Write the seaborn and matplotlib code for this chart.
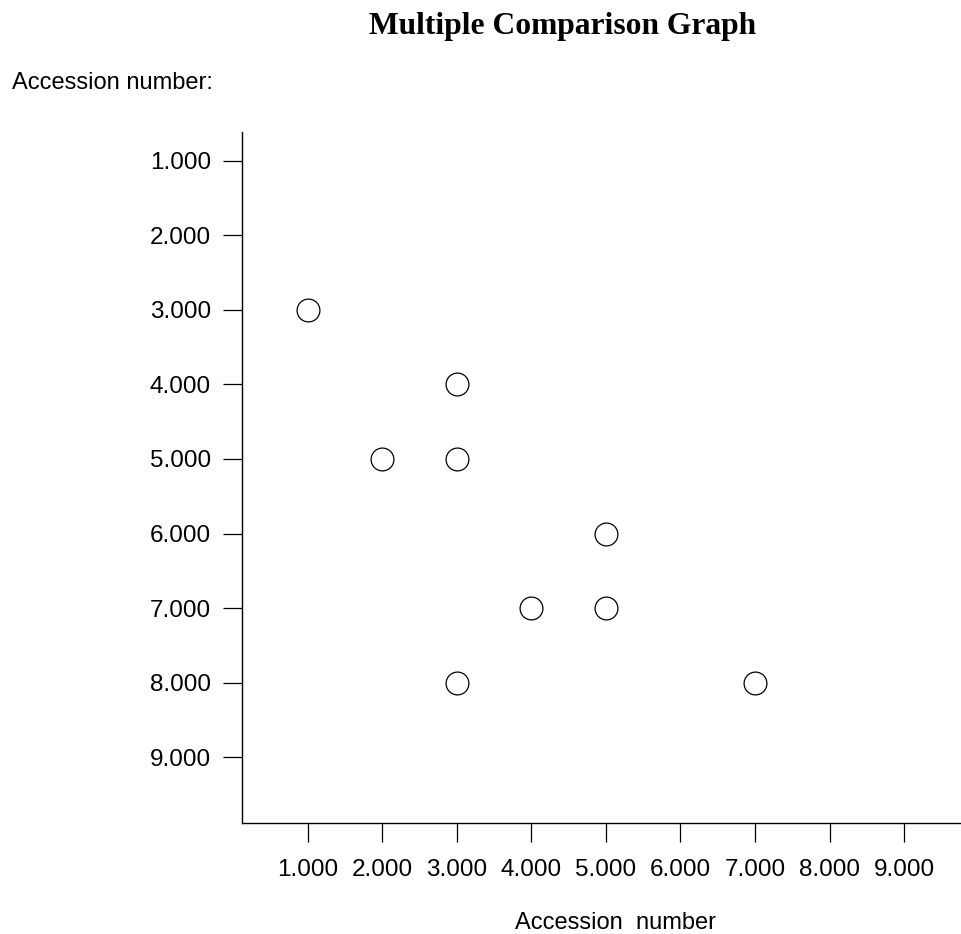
import numpy as np
import pandas as pd
import seaborn as sns, matplotlib.pyplot as plt

sns.set_style("ticks")
plt.rcParams['font.family'] = ['Liberation Sans', 'DejaVu Sans']
plt.rcParams['text.color'] = 'black'
plt.rcParams['axes.labelcolor'] = 'black'
plt.rcParams['xtick.color'] = 'black'
plt.rcParams['ytick.color'] = 'black'

# pairs of accessions that differ
acc_x = [1, 3, 2, 3, 5, 4, 5, 3, 7]
acc_y = [3, 4, 5, 5, 6, 7, 7, 8, 8]
tick_vals = [1, 2, 3, 4, 5, 6, 7, 8, 9]
tick_labels = ["%.3f" % v for v in tick_vals]

df = pd.DataFrame({"x": acc_x, "y": acc_y})

fig = plt.figure(figsize=(9.61, 9.34), dpi=100)
ax = fig.add_axes([0.2518, 0.1188, 0.7482, 0.7399])

sns.scatterplot(data=df, x="x", y="y", ax=ax, s=270, marker="o",
                facecolor="white", edgecolor="black", linewidth=0.9, zorder=3)

ax.set_xlim(0.114, 9.765)
ax.set_ylim(9.886, 0.611)
ax.set_xticks(tick_vals)
ax.set_xticklabels(tick_labels)
ax.set_yticks(tick_vals)
ax.set_yticklabels(tick_labels)
ax.tick_params(axis="x", length=13.7, width=0.9, pad=12, labelsize=17.5)
ax.tick_params(axis="y", length=13.7, width=0.9, pad=8.6, labelsize=17.5)
sns.despine(ax=ax)
for sp in ["left", "bottom"]:
    ax.spines[sp].set_color("black")
    ax.spines[sp].set_linewidth(1)

ax.set_ylabel("")
ax.set_xlabel("Accession  number", fontsize=17, va="baseline")
ax.xaxis.set_label_coords(0.52, -0.1534)

fig.text(0.5853, 0.9636, "Multiple Comparison Graph", ha="center", va="baseline",
         fontsize=22.7, fontweight="bold", family="Liberation Serif")
fig.text(0.0125, 0.9047, "Accession number:", ha="left", va="baseline", fontsize=17)

fig.savefig("out.png", dpi=100)
